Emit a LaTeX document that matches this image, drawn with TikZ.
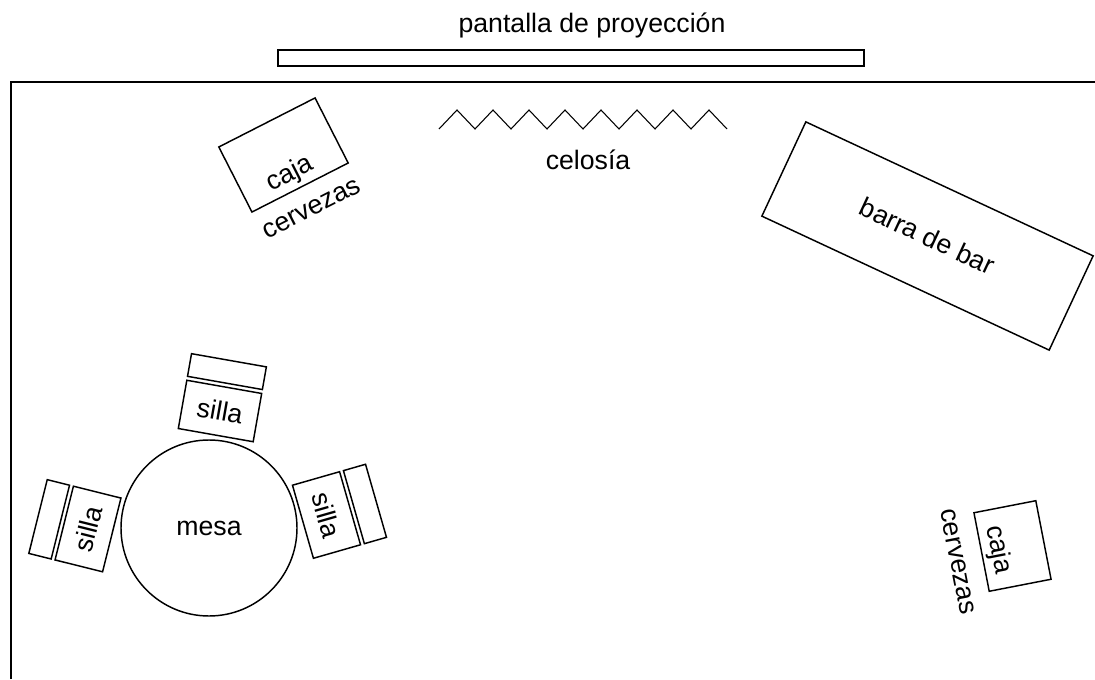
\documentclass[tikz,border=0pt]{standalone}
\usepackage{fontspec}
\setmainfont{Liberation Sans}
\begin{document}
\begin{tikzpicture}[x=0.75pt, y=0.75pt,
  mueble/.style={draw, line width=1.1pt, inner sep=0pt},
  rotulo/.style={inner sep=0pt, font=\fontsize{20}{24}\selectfont}]
\useasboundingbox (0,0) rectangle (1095,679);
\draw[line width=1.5pt] (11,0) -- (11,597) -- (1095,597);
\node [mueble, line width=1.5pt, minimum width=439.5pt, minimum height=12pt] (pantalla) at (571,621) {};
\node [rotulo] (proyeccion) at (592,654) {pantalla de proyección};
\draw[line width=0.8pt] (439,550) \foreach \i in {1,...,8} {-- ++(18,19) -- ++(18,-19)};
\node [rotulo] (celosia) at (588,519) {celosía};
\begin{scope}[shift={(283.5,524)}, rotate=27, transform shape]
  \node [mueble, minimum width=81pt, minimum height=54.75pt] (caja1) at (0,0) {};
  \node [rotulo] (caja1a) at (-3,-20) {caja};
  \node [rotulo] (caja1b) at (1,-61) {cervezas};
\end{scope}
\begin{scope}[shift={(1012.5,133)}, rotate=-79, transform shape]
  \node [mueble, minimum width=60pt, minimum height=47.25pt] (caja2) at (0,0) {};
  \node [rotulo] (caja2a) at (1,-15) {caja};
  \node [rotulo] (caja2b) at (5,-57) {cervezas};
\end{scope}
\node [mueble, rotulo, rotate=-25, minimum width=237.75pt, minimum height=78pt] (barra) at (927.5,443) {barra de bar};
\node [mueble, rotulo, circle, minimum size=132pt] (mesa) at (209,151) {mesa};
\foreach \x/\y/\a/\n in {220/268/-10/1, 88/150/76/2, 326.5/164/-74/3}{
  \begin{scope}[shift={(\x,\y)}, rotate=\a, transform shape]
    \node [mueble, rotulo, minimum width=57pt, minimum height=36.75pt] (silla\n) at (0,0) {silla};
    \node [mueble, minimum width=57pt, minimum height=17.25pt] (respaldo\n) at (0,40) {};
  \end{scope}
}
\end{tikzpicture}
\end{document}
